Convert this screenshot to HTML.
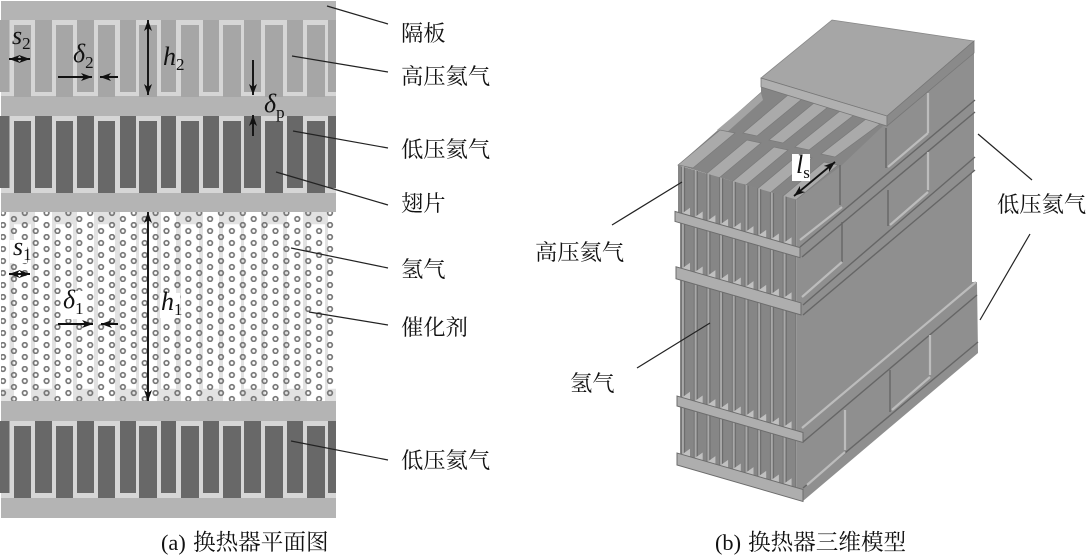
<!DOCTYPE html>
<html><head><meta charset="utf-8"><style>
html,body{margin:0;padding:0;background:#fff;width:1088px;height:557px;overflow:hidden}
svg{display:block}
.cn{font-family:"Liberation Serif","Noto Serif CJK SC",serif;font-size:22.3px;fill:#111}
.v{font-family:"Liberation Serif",serif;font-style:italic;font-size:26px;fill:#111}
.sub{font-family:"Liberation Serif",serif;font-size:17px;fill:#111;font-style:normal}
</style></head><body>
<svg width="1088" height="557" viewBox="0 0 1088 557" xmlns="http://www.w3.org/2000/svg">
<defs>
<marker id="ah" markerWidth="12" markerHeight="8" refX="11" refY="4" orient="auto-start-reverse" markerUnits="userSpaceOnUse"><path d="M0 0L11 4L0 8L3 4Z" fill="#111"/></marker>
<g id="up"><rect x="0" width="9.5" height="72"/><rect x="35" width="17" height="72"/><rect x="77" width="17" height="72"/><rect x="120" width="16" height="72"/><rect x="161" width="15" height="72"/><rect x="203" width="16" height="72"/><rect x="244" width="17" height="72"/><rect x="287" width="16" height="72"/><rect x="328" width="8" height="72"/></g>
<g id="dn"><rect x="14" y="5" width="17" height="72"/><rect x="56" y="5" width="17" height="72"/><rect x="98" y="5" width="17" height="72"/><rect x="139" y="5" width="18" height="72"/><rect x="181" y="5" width="18" height="72"/><rect x="223" y="5" width="18" height="72"/><rect x="265" y="5" width="18" height="72"/><rect x="307" y="5" width="18" height="72"/></g>
<pattern id="dots" patternUnits="userSpaceOnUse" x="3" y="210" width="21.8" height="12">
<circle cx="0" cy="3" r="2.3" fill="none" stroke="#777" stroke-width="1.7"/><circle cx="21.8" cy="3" r="2.3" fill="none" stroke="#777" stroke-width="1.7"/><circle cx="10.9" cy="9" r="2.3" fill="none" stroke="#777" stroke-width="1.7"/>
</pattern>
<pattern id="strip" patternUnits="userSpaceOnUse" x="5" y="0" width="12.7" height="20">
<rect width="12.7" height="20" fill="#868686"/><rect x="0" width="2" height="20" fill="#a8a8a8"/><rect x="2" width="1" height="20" fill="#666"/><rect x="11.7" width="1" height="20" fill="#747474"/>
</pattern>
<g id="tris" fill="#c0c0c0"><polygon points="8,0 16,0 16,-8"/><polygon points="20.7,0 28.7,0 28.7,-8"/><polygon points="33.4,0 41.4,0 41.4,-8"/><polygon points="46.1,0 54.1,0 54.1,-8"/><polygon points="58.8,0 66.8,0 66.8,-8"/><polygon points="71.5,0 79.5,0 79.5,-8"/><polygon points="84.2,0 92.2,0 92.2,-8"/><polygon points="96.9,0 104.9,0 104.9,-8"/><polygon points="109.6,0 117.6,0 117.6,-8"/></g>
</defs>
<rect width="1088" height="557" fill="#fff"/>

<!-- left panel -->
<rect x="1" y="1" width="335" height="517" fill="#b4b4b4"/>
<rect x="1" y="20" width="335" height="76" fill="#d6d6d6"/>
<use href="#up" x="0" y="20" fill="#a6a6a6"/><use href="#dn" x="0" y="20" fill="#a6a6a6"/>
<rect x="1" y="116" width="335" height="77" fill="#d6d6d6"/>
<use href="#up" x="0" y="116" fill="#686868"/><use href="#dn" x="0" y="116" fill="#686868"/>
<rect x="1" y="421" width="335" height="77" fill="#d6d6d6"/>
<use href="#up" x="0" y="421" fill="#686868"/><use href="#dn" x="0" y="421" fill="#686868"/>
<rect x="1" y="212" width="335" height="189" fill="#e2e2e2"/>
<g transform="translate(0,212) scale(1,2.455)" fill="#fff"><use href="#up"/><use href="#dn"/></g>
<rect x="1" y="212" width="335" height="189" fill="url(#dots)"/>

<!-- white label backs -->
<rect x="10" y="240" width="17" height="23" fill="#fff"/>
<rect x="62" y="291" width="24" height="28" fill="#fff"/>
<rect x="160" y="293" width="20" height="25" fill="#fff"/>

<!-- dimension arrows -->
<g stroke="#111" stroke-width="1.9" fill="none">
<line x1="9" y1="59" x2="30" y2="59" marker-start="url(#ah)" marker-end="url(#ah)"/>
<line x1="58" y1="77" x2="92" y2="77" marker-end="url(#ah)"/>
<line x1="118" y1="77" x2="100" y2="77" marker-end="url(#ah)"/>
<line x1="148" y1="20" x2="148" y2="95" marker-start="url(#ah)" marker-end="url(#ah)"/>
<line x1="253" y1="60" x2="253" y2="95" marker-end="url(#ah)"/>
<line x1="253" y1="136" x2="253" y2="115" marker-end="url(#ah)"/>
<line x1="9" y1="274" x2="30" y2="274" marker-start="url(#ah)" marker-end="url(#ah)"/>
<line x1="58" y1="324" x2="93" y2="324" marker-end="url(#ah)"/>
<line x1="118" y1="324" x2="101" y2="324" marker-end="url(#ah)"/>
<line x1="148" y1="212" x2="148" y2="401" marker-start="url(#ah)" marker-end="url(#ah)"/>
</g>
<text class="v" x="12" y="44">s<tspan class="sub" dy="5">2</tspan></text>
<text class="v" x="73" y="62">δ<tspan class="sub" dy="6">2</tspan></text>
<text class="v" x="163" y="65">h<tspan class="sub" dy="5">2</tspan></text>
<text class="v" x="264" y="112">δ<tspan class="sub" dy="6">p</tspan></text>
<text class="v" x="13" y="255">s<tspan class="sub" dy="5">1</tspan></text>
<text class="v" x="63" y="308">δ<tspan class="sub" dy="6">1</tspan></text>
<text class="v" x="161" y="310">h<tspan class="sub" dy="5">1</tspan></text>

<!-- left leaders -->
<g stroke="#222" stroke-width="1.2" fill="none">
<line x1="327" y1="6" x2="388" y2="24"/>
<line x1="292" y1="56" x2="388" y2="72"/>
<line x1="293" y1="131" x2="388" y2="148"/>
<line x1="276" y1="172" x2="388" y2="205"/>
<line x1="291" y1="248" x2="388" y2="268"/>
<line x1="309" y1="312" x2="388" y2="325"/>
<line x1="291" y1="441" x2="388" y2="460"/>
</g>
<text class="cn" x="401" y="41">隔板</text>
<text class="cn" x="401" y="84">高压氦气</text>
<text class="cn" x="401" y="157">低压氦气</text>
<text class="cn" x="401" y="211">翅片</text>
<text class="cn" x="401" y="277">氢气</text>
<text class="cn" x="401" y="335">催化剂</text>
<text class="cn" x="401" y="468">低压氦气</text>
<text class="cn" x="161" y="550">(a) <tspan x="193" style="font-size:22.6px">换热器平面图</tspan></text>
<text class="cn" x="715" y="550">(b) <tspan x="748" style="font-size:22.6px">换热器三维模型</tspan></text>
<text class="cn" x="997" y="212">低压氦气</text>
<text class="cn" x="535" y="260">高压氦气</text>
<text class="cn" x="570" y="391">氢气</text>

<!-- 3D: right face -->
<polygon points="796,197 836,162 840,162 881,124 888,124 974,53 974,172 972,172 972,282 977,282 978,353 803,501 794,497 794,250" fill="#8f8f8f"/>
<!-- back region -->
<polygon points="678,165 718,130 761,92 761,87 887,126 883,126 842,165 796,200" fill="#858585"/>
<polygon points="717,130 761,93 763,100 725,134" fill="#a4a4a4"/>
<g fill="#aaa" stroke="#7a7a7a" stroke-width=".7">
<polygon points="743,133 757,136 802,99 788,95"/>
<polygon points="769,140 783,143 828,107 814,103"/>
<polygon points="795,147 809,150 854,115 840,111"/>
<polygon points="821,154 835,157 880,124 866,119"/>
<polygon points="678,165 693,168 735,133 720,130"/>
<polygon points="705,175 719,178 761,143 747,140"/>
<polygon points="732,182 746,185 788,150 774,147"/>
<polygon points="756,190 770,193 812,158 798,155"/>
<polygon points="782,197 796,200 838,165 824,162"/>
</g>
<!-- top plate -->
<polygon points="761,78 832,20 974,41 887,116" fill="#a6a6a6" stroke="#888" stroke-width=".8"/>
<polygon points="761,78 887,116 887,126 761,87" fill="#b0b0b0" stroke="#777" stroke-width=".8"/>
<polygon points="887,116 974,41 974,53 887,126" fill="#8a8a8a" stroke="#777" stroke-width=".8"/>

<!-- right-face bands -->
<g stroke="#666" stroke-width="1.4" fill="none">
<line x1="975" y1="100" x2="800" y2="247"/>
<line x1="975" y1="112" x2="802" y2="257"/>
<line x1="975" y1="157" x2="803" y2="305"/>
<line x1="975" y1="170" x2="803" y2="315"/>
<line x1="977" y1="295" x2="803" y2="442"/>
<line x1="978" y1="342" x2="803" y2="488"/>
<line x1="840" y1="165" x2="840" y2="205"/>
<line x1="886" y1="128" x2="886" y2="168"/>
<line x1="842" y1="222" x2="842" y2="262"/>
<line x1="888" y1="190" x2="888" y2="226"/>
<line x1="890" y1="370" x2="890" y2="412"/>
</g>
<g stroke="#bcbcbc" stroke-width="2.2" fill="none">
<line x1="800" y1="240" x2="842" y2="207"/>
<line x1="888" y1="167" x2="928" y2="133"/>
<line x1="928" y1="93" x2="928" y2="133"/>
<line x1="802" y1="297" x2="842" y2="262"/>
<line x1="890" y1="225" x2="928" y2="192"/>
<line x1="928" y1="152" x2="928" y2="190"/>
<line x1="802" y1="428" x2="976" y2="282"/>
<line x1="807" y1="485" x2="845" y2="452"/>
<line x1="892" y1="410" x2="930" y2="377"/>
<line x1="845" y1="410" x2="845" y2="450"/>
<line x1="930" y1="335" x2="930" y2="375"/>
</g>

<!-- front face in skewed coordinates -->
<g transform="translate(677,0) skewY(16.17)">
<rect x="1" y="165" width="119" height="47" fill="url(#strip)"/>
<rect x="3" y="222" width="117" height="45" fill="url(#strip)"/>
<rect x="3" y="279" width="117" height="117" fill="url(#strip)"/>
<rect x="3" y="406" width="117" height="47" fill="url(#strip)"/>
<use href="#tris" x="-3" y="212"/><use href="#tris" x="-3" y="267"/><use href="#tris" x="-3" y="396"/><use href="#tris" x="-3" y="453"/>
<g fill="#aeaeae" stroke="#6c6c6c" stroke-width="1">
<rect x="-2" y="212" width="125" height="10"/>
<rect x="-1" y="267" width="125" height="12"/>
<rect x="0" y="396" width="126" height="10"/>
<rect x="0" y="453" width="126" height="12"/>
</g>
</g>

<!-- ls label and arrow -->
<rect x="792" y="154" width="18" height="27" fill="#fff"/>
<text class="v" x="796" y="173">l<tspan class="sub" dy="5">s</tspan></text>
<line x1="794" y1="196" x2="835" y2="162" stroke="#111" stroke-width="1.8" marker-start="url(#ah)" marker-end="url(#ah)"/>

<!-- right leaders -->
<g stroke="#222" stroke-width="1.2" fill="none">
<line x1="612" y1="225" x2="682" y2="182"/>
<line x1="637" y1="368" x2="710" y2="323"/>
<line x1="978" y1="134" x2="1032" y2="180"/>
<line x1="980" y1="320" x2="1030" y2="234"/>
</g>
</svg>
</body></html>
